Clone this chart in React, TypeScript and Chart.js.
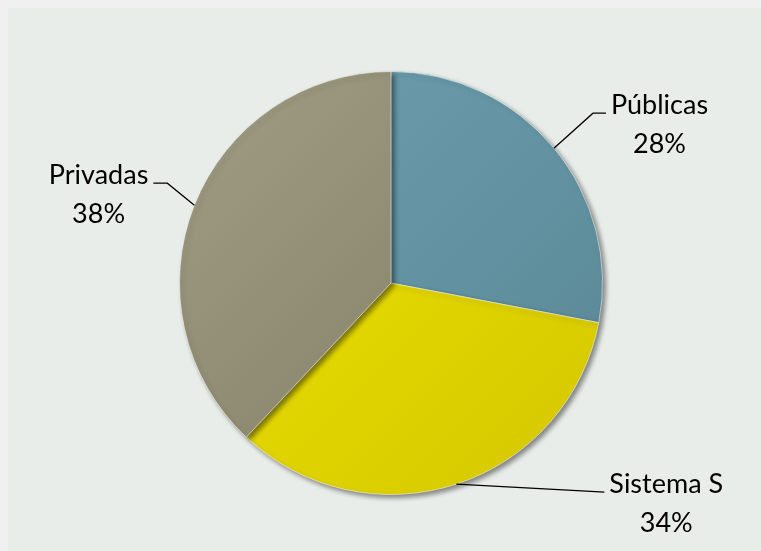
import React, { useEffect, useRef } from "react";
import { Chart, registerables } from "chart.js";

Chart.register(...registerables);

const categories = ["Públicas", "Sistema S", "Privadas"];
const shares = [28, 34, 38];
const percentLabels = ["28%", "34%", "38%"];

const lightColors = ["#6fa1b1", "#eee600", "#a09d84"];
const darkColors = ["#588594", "#d4c600", "#7f7a62"];

// leader geometry relative to the slice anchor (style only)
const leaderStyle = [
  { elbow: [39, -35], end: [52, -35], align: "left" as CanvasTextAlign },
  { elbow: [130, 7], end: [148, 8], align: "left" as CanvasTextAlign },
  { elbow: [-27, -22], end: [-41, -22], align: "right" as CanvasTextAlign },
];

export default function App() {
  const ref = useRef<HTMLCanvasElement>(null);
  useEffect(() => {
    document.body.style.background = "#f0f0f0";
    document.body.style.overflow = "hidden";
    document.documentElement.style.overflow = "hidden";
    const canvas = ref.current!;
    const shadowPlugin = {
      id: "shadow",
      beforeDatasetsDraw(chart: any) {
        const ctx = chart.ctx;
        ctx.save();
        ctx.shadowColor = "rgba(0,0,0,0.45)";
        ctx.shadowBlur = 5;
        ctx.shadowOffsetX = 3;
        ctx.shadowOffsetY = 3;
      },
      afterDatasetsDraw(chart: any) {
        chart.ctx.restore();
        const ctx = chart.ctx;
        const meta = chart.getDatasetMeta(0);
        ctx.save();
        ctx.font = '400 27px Lato, "Open Sans", sans-serif';
        ctx.fillStyle = "#000";
        ctx.strokeStyle = "#000";
        ctx.lineWidth = 1.3;
        meta.data.forEach((arc: any, i: number) => {
          const p = arc.getProps(["x", "y", "startAngle", "endAngle", "outerRadius"], true);
          const mid = (p.startAngle + p.endAngle) / 2;
          const ax = p.x + Math.cos(mid) * p.outerRadius;
          const ay = p.y + Math.sin(mid) * p.outerRadius;
          const s = leaderStyle[i];
          const ex = ax + s.elbow[0], ey = ay + s.elbow[1];
          const tx = ax + s.end[0], ty = ay + s.end[1];
          ctx.beginPath();
          ctx.moveTo(ax, ay);
          ctx.lineTo(ex, ey);
          ctx.lineTo(tx, ty);
          ctx.stroke();
          const w1 = ctx.measureText(categories[i]).width;
          const cx = s.align === "left" ? tx + 5 + w1 / 2 : tx - 5 - w1 / 2;
          ctx.textAlign = "center";
          ctx.textBaseline = "alphabetic";
          ctx.fillText(categories[i], cx, ty + 1);
          ctx.fillText(percentLabels[i], cx, ty + 40);
        });
        ctx.restore();
      },
    };
    const chart = new Chart(canvas, {
      type: "pie",
      data: {
        labels: categories,
        datasets: [
          {
            data: shares,
            backgroundColor: (c: any) => {
              const area = c.chart.chartArea;
              if (!area) return lightColors[c.dataIndex];
              const g = c.chart.ctx.createLinearGradient(area.left, area.top, area.right, area.bottom);
              g.addColorStop(0, lightColors[c.dataIndex]);
              g.addColorStop(1, darkColors[c.dataIndex]);
              return g;
            },
            borderColor: "rgba(255,255,255,0.5)",
            borderWidth: 1,
          },
        ],
      },
      options: {
        animation: false,
        responsive: false,
        maintainAspectRatio: false,
        layout: { padding: { left: 171, right: 165, top: 63, bottom: 56 } },
        plugins: { legend: { display: false }, tooltip: { enabled: false } },
      },
      plugins: [shadowPlugin],
    });
    return () => chart.destroy();
  }, []);
  return (
    <div style={{ position: "absolute", left: 8, top: 8, width: 760, height: 543, background: "#e8ede9", overflow: "hidden" }}>
      <canvas ref={ref} width={760} height={543} style={{ display: "block" }} />
    </div>
  );
}
